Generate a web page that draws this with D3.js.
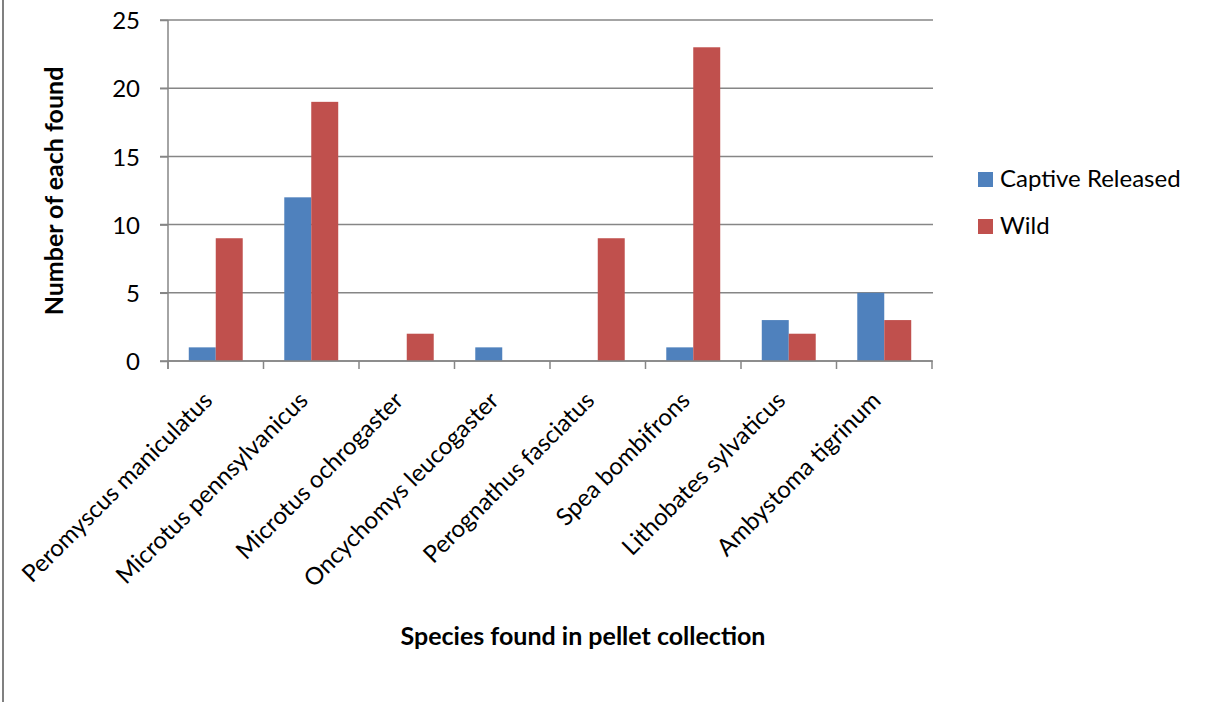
<!DOCTYPE html>
<html><head><meta charset="utf-8">
<script src="https://cdn.jsdelivr.net/npm/d3@7"></script>
<style>body{margin:0;background:#fff;} svg{display:block;font-family:Lato, "Open Sans", sans-serif;} text{font-family:Lato, "Open Sans", sans-serif;}</style>
</head><body>
<svg id="c" width="1208" height="702"></svg>
<script>
const categories = ["Peromyscus maniculatus","Microtus pennsylvanicus","Microtus ochrogaster","Oncychomys leucogaster","Perognathus fasciatus","Spea bombifrons","Lithobates sylvaticus","Ambystoma tigrinum"];
const seriesNames = ["Captive Released","Wild"];
const captiveReleased = [1,12,0,1,0,1,3,5];
const wild = [9,19,2,0,9,23,2,3];
const yTicks = [0,5,10,15,20,25];
const colors = ["#4F81BD","#C0504D"];

(function(){
const svg = d3.select("#c");
const FONT = "Lato";
const pL = 168, pR = 932, pT = 20, pB = 361;
const x = d3.scaleBand().domain(categories).range([pL,pR]).paddingInner(0).paddingOuter(0);
const inner = d3.scaleBand().domain(seriesNames).range([0,x.bandwidth()]).paddingInner(0).paddingOuter(0.77);
const y = d3.scaleLinear().domain([0,25]).range([pB,pT]);
const grid = "#868686";

svg.append("line").attr("x1",3).attr("x2",3).attr("y1",0).attr("y2",702).attr("stroke","#808080").attr("stroke-width",2);

// gridlines
svg.append("g").selectAll("line").data(yTicks).join("line")
  .attr("x1",pL-8).attr("x2",pR+1).attr("y1",d=>y(d)).attr("y2",d=>y(d))
  .attr("stroke",grid).attr("stroke-width",1.5);

// bars
const data = categories.map((c,i)=>({c, vals:[captiveReleased[i], wild[i]]}));
const g = svg.append("g");
data.forEach(d=>{
  d.vals.forEach((v,j)=>{
    if(v<=0) return;
    g.append("rect").attr("x",x(d.c)+inner(seriesNames[j])).attr("width",inner.bandwidth())
      .attr("y",y(v)).attr("height",y(0)-y(v)).attr("fill",colors[j]);
  });
});

// y axis
const yAxis = d3.axisLeft(y).tickValues(yTicks).tickSize(8).tickPadding(20);
const ya = svg.append("g").attr("transform",`translate(${pL},0)`).call(yAxis).attr("font-family",FONT);
ya.select(".domain").remove();
ya.selectAll(".tick line").attr("stroke",grid).attr("stroke-width",1.5);
ya.selectAll(".tick text").attr("font-size",24).attr("fill","#000").attr("font-family",FONT).attr("dy","0.36em");
svg.append("line").attr("x1",pL).attr("x2",pL).attr("y1",pT).attr("y2",pB+8).attr("stroke",grid).attr("stroke-width",1.5);

// x axis
const xa = svg.append("g").attr("transform",`translate(0,${pB})`);
xa.call(d3.axisBottom(x).tickSize(0).tickFormat(""));
xa.attr("font-family",FONT);
xa.select(".domain").attr("stroke",grid).attr("stroke-width",1.5).attr("d",`M${pL},0H${pR}`);
const bounds = x.domain().map(c=>x(c)).concat([pR]);
xa.selectAll("line.b").data(bounds).join("line").attr("class","b")
  .attr("x1",d=>d).attr("x2",d=>d).attr("y1",0).attr("y2",8).attr("stroke",grid).attr("stroke-width",1.5);
xa.selectAll("text.lbl").data(categories).join("text").attr("class","lbl")
  .attr("transform",d=>`translate(${x(d)+x.bandwidth()/2-2},${41}) rotate(-45)`)
  .attr("text-anchor","end").attr("font-size",24).attr("font-family",FONT).attr("fill","#000").text(d=>d);

// titles
svg.append("text").attr("transform","translate(63,191) rotate(-90)").attr("text-anchor","middle")
  .attr("font-size",25).attr("font-family",FONT).attr("font-weight","bold").text("Number of each found");
svg.append("text").attr("x",583).attr("y",645).attr("text-anchor","middle")
  .attr("font-size",25).attr("font-family",FONT).attr("font-weight","bold").text("Species found in pellet collection");

// legend
const lg = svg.append("g");
seriesNames.forEach((s,i)=>{
  lg.append("rect").attr("x",978).attr("y",172+i*47).attr("width",15).attr("height",15).attr("fill",colors[i]);
  lg.append("text").attr("x",1000).attr("y",187+i*47).attr("font-size",24).attr("font-family",FONT).attr("fill","#000").text(s);
});
})();
</script>
</body></html>
